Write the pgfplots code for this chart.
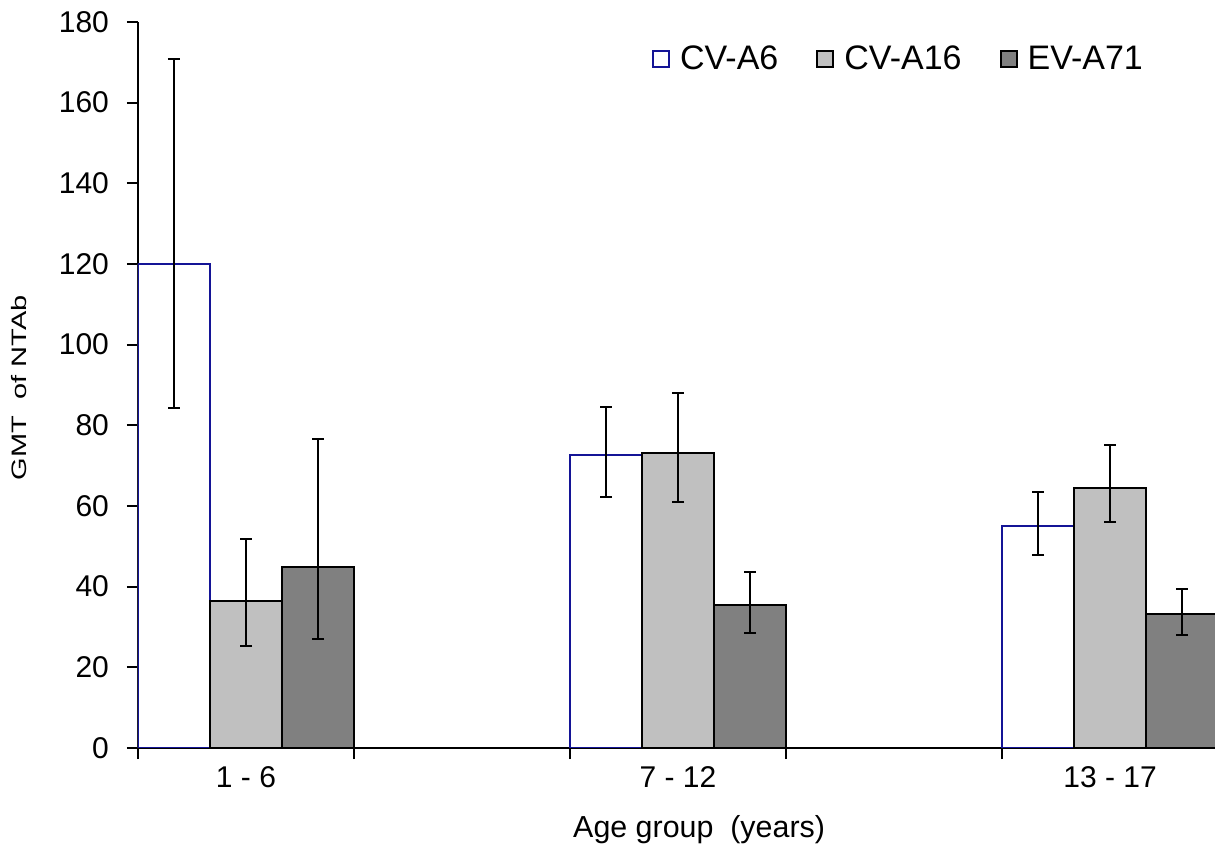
\documentclass[border=0pt]{standalone}
\usepackage{fontspec}
\setmainfont{Liberation Sans}
\usepackage{pgfplots}
\pgfplotsset{compat=1.18}
\usepackage{pgfplotstable}

\definecolor{a6blue}{RGB}{20,20,150}
\definecolor{a16}{RGB}{192,192,192}
\definecolor{a71}{RGB}{128,128,128}

% x = category position (0,1,2) shifted by the bar's offset of 1/6
\pgfplotstableread{
x y ep em
-0.16667 120.0 50.8 35.7
0.83333 72.6 11.9 10.4
1.83333 55.0 8.5 7.1
}\cvasix
\pgfplotstableread{
x y ep em
0 36.4 15.4 11.1
1 73.1 14.9 12.1
2 64.5 10.6 8.5
}\cvasixteen
\pgfplotstableread{
x y ep em
0.16667 44.9 31.7 17.9
1.16667 35.5 8.1 7.0
2.16667 33.2 6.2 5.2
}\evaseventyone

\begin{document}
\begin{tikzpicture}
\begin{axis}[
  scale only axis, width=538.5pt, height=363pt,
  xmin=-0.25, xmax=2.243, ymin=0, ymax=180,
  axis x line*=bottom, axis y line*=left,
  axis line style={line width=1pt, black},
  tick align=outside,
  major tick length=5.5pt, minor tick length=5.5pt,
  tick style={black, line width=1pt},
  xtick={0,1,2}, xticklabels={1 - 6,7 - 12,13 - 17},
  minor xtick={-0.25,0.25,0.75,1.25,1.75,2.25},
  major x tick style={draw=none},
  ytick={0,20,...,180},
  yticklabel shift=5.5pt,
  tick label style={font=\fontsize{15}{18}\selectfont},
  /pgf/number format/assume math mode=true,
  xlabel={Age group\ \ (years)},
  xlabel style={at={(axis description cs:0.521,0)}, anchor=center, yshift=-41pt, font=\fontsize{15.2}{18}\selectfont},
  ylabel={\scalebox{1}[0.72]{GMT\ \ of NTAb}},
  ylabel style={at={(axis description cs:0,0.496)}, anchor=center, yshift=59.5pt, font=\fontsize{14.5}{17}\selectfont},
  legend style={at={(axis description cs:0.477,0.949)}, anchor=west, draw=none, fill=none,
    inner sep=0pt, font=\fontsize{17}{20}\selectfont,
    /tikz/every odd column/.append style={column sep=3pt},
    /tikz/every even column/.append style={column sep=17pt}},
  legend columns=3,
  legend image code/.code={\draw[#1, line width=1pt] (0pt,-4pt) rectangle (8pt,4pt);},
  error bars/y dir=both, error bars/y explicit,
  error bars/error bar style={black, line width=1pt, solid},
  error bars/error mark options={black, line width=1pt, mark size=3pt, rotate=90},
]
\addplot[ybar, bar width=0.16667, bar shift=0, fill=white, draw=a6blue, line width=1pt]
  table[x=x, y=y, y error plus=ep, y error minus=em] {\cvasix};
\addlegendentry{CV-A6}
\addplot[ybar, bar width=0.16667, bar shift=0, fill=a16, draw=black, line width=1pt]
  table[x=x, y=y, y error plus=ep, y error minus=em] {\cvasixteen};
\addlegendentry{CV-A16}
\addplot[ybar, bar width=0.16667, bar shift=0, fill=a71, draw=black, line width=1pt]
  table[x=x, y=y, y error plus=ep, y error minus=em] {\evaseventyone};
\addlegendentry{EV-A71}
\end{axis}
\pgfresetboundingbox
\path[use as bounding box] ([shift={(-69pt,-48.5pt)}]current axis.south west) rectangle ([shift={(0pt,11pt)}]current axis.north east);
\end{tikzpicture}
\end{document}
